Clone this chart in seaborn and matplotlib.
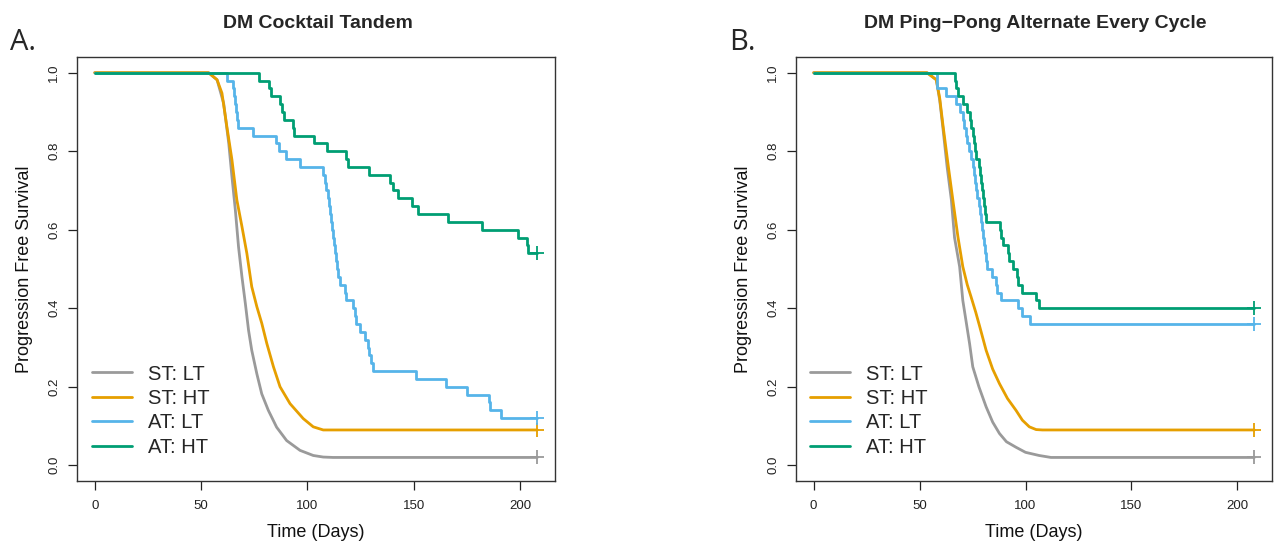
import numpy as np
import pandas as pd
import matplotlib
matplotlib.use("Agg")
import matplotlib.pyplot as plt
import seaborn as sns

# ---------------- Panel A: DM Cocktail Tandem ----------------
a_st_lt_t = [0, 53.5, 57.5, 60.6, 63.0, 64.5, 66.1, 67.6, 69.2, 70.8, 72.3, 73.8, 76.2,
             78.5, 81.6, 85.5, 90.2, 96.5, 102.7, 107.4, 112, 208]
a_st_lt_s = [1.0, 1.0, 0.982, 0.922, 0.820, 0.735, 0.650, 0.556, 0.480, 0.412, 0.344, 0.293,
             0.233, 0.182, 0.140, 0.097, 0.063, 0.038, 0.025, 0.021, 0.02, 0.02]

a_st_ht_t = [0, 53.5, 57.5, 59.8, 62.1, 64.5, 66.8, 69.2, 71.5, 73.8, 76.2, 78.5, 80.9,
             84.0, 87.1, 91.8, 98.0, 102.7, 107.4, 208]
a_st_ht_s = [1.0, 1.0, 0.982, 0.948, 0.863, 0.778, 0.676, 0.608, 0.540, 0.455, 0.404, 0.362,
             0.310, 0.251, 0.200, 0.157, 0.119, 0.098, 0.09, 0.09]

a_at_lt_t = [0, 62, 65, 65.5, 66, 66.5, 67, 67.5, 74.5, 85, 86.5, 90, 96.5,
             107.5, 108, 108.5, 109.5, 110, 110.5, 111, 111.5, 112, 112.5,
             113, 113.5, 114, 114.5, 115.5, 117.5, 118,
             121.5, 122.5, 123, 124.5, 127, 128.5, 129, 130, 131,
             151, 165, 175, 185.5, 186, 191, 208]
a_at_lt_s = [1.0, .98, .96, .94, .92, .90, .88, .86, .84, .82, .80, .78, .76,
             .74, .72, .70, .68, .66, .64, .62, .60, .58, .56,
             .54, .52, .50, .48, .46, .44, .42,
             .40, .38, .36, .34, .32, .30, .28, .26, .24,
             .22, .20, .18, .16, .14, .12, .12]

a_at_ht_t = [0, 77, 82, 83, 87, 88, 89, 93, 93.5, 103, 109, 118, 119, 129, 139, 140,
             142.5, 149, 152, 166, 182, 199, 203, 203.5, 208]
a_at_ht_s = [1.0, .98, .96, .94, .92, .90, .88, .86, .84, .82, .80, .78, .76, .74, .72, .70,
             .68, .66, .64, .62, .60, .58, .56, .54, .54]

# ---------------- Panel B: DM Ping-Pong Alternate Every Cycle ----------------
b_st_lt_t = [0, 53.5, 57.9, 59.5, 61, 63, 65, 66.5, 68.9, 70.4, 73.6, 75.1, 78, 81.4,
             84.5, 87.7, 91, 95.5, 100, 106.4, 112, 208]
b_st_lt_s = [1.0, 1.0, 0.982, 0.93, 0.86, 0.76, 0.676, 0.58, 0.506, 0.42, 0.31, 0.251,
             0.20, 0.149, 0.11, 0.081, 0.06, 0.046, 0.033, 0.025, 0.02, 0.02]

b_st_ht_t = [0, 53.5, 57.9, 59.5, 61, 63.4, 65.7, 68.1, 70.4, 72.5, 74.3, 76.5, 78.3,
             81.4, 84.5, 87.7, 91.5, 95.5, 98.5, 101.8, 105, 108, 208]
b_st_ht_s = [1.0, 1.0, 0.982, 0.935, 0.868, 0.768, 0.676, 0.582, 0.506, 0.46, 0.429,
             0.39, 0.355, 0.293, 0.245, 0.208, 0.17, 0.14, 0.115, 0.098, 0.091, 0.09, 0.09]

b_at_lt_t = [0, 58, 62.5, 67, 69, 70.5, 71, 72, 72.5, 73.5,
             74.5, 75, 75.5, 76, 76.5, 77, 78, 78.5, 79, 79.5,
             80, 80.5, 81, 81.5, 82, 84, 86, 86.5, 88.5, 96.5,
             98.5, 102, 208]
b_at_lt_s = [1.0, .96, .94, .92, .90, .88, .86, .84, .82, .80,
             .78, .76, .74, .72, .70, .68, .66, .64, .62, .60,
             .58, .56, .54, .52, .50, .48, .46, .44, .42, .40,
             .38, .36, .36]

b_at_ht_t = [0, 66.5, 67, 68, 70.5, 72.5, 74, 74.5, 75, 75.5,
             76, 76.5, 78, 78.5, 79, 79.5, 80, 80.5, 81, 81.5,
             88, 88.5, 89.5, 91.5, 92, 94, 96, 96.5, 98.5, 105,
             106.5, 208]
b_at_ht_s = [1.0, .98, .96, .94, .92, .90, .88, .86, .84, .82,
             .80, .78, .76, .74, .72, .70, .68, .66, .64, .62,
             .60, .58, .56, .54, .52, .50, .48, .46, .44, .42,
             .40, .40]

group_labels = ["ST: LT", "ST: HT", "AT: LT", "AT: HT"]
group_colors = ["#9a9a9a", "#E69F00", "#56B4E9", "#009E73"]
x_ticks = [0, 50, 100, 150, 200]
y_ticks = [0.0, 0.2, 0.4, 0.6, 0.8, 1.0]

sns.set_theme(style="ticks")
plt.rcParams["font.family"] = ["Liberation Sans", "DejaVu Sans"]

W, H = 1274, 549
fig = plt.figure(figsize=(W / 100, H / 100), dpi=100)
axA = fig.add_axes([77 / W, 68 / H, 478 / W, 424 / H])
axB = fig.add_axes([796 / W, 68 / H, 476 / W, 424 / H])


def draw_panel(ax, curves, leg_x):
    for (t, s, stepped), lab, col in zip(curves, group_labels, group_colors):
        df = pd.DataFrame({"Time (Days)": t, "Progression Free Survival": s})
        sns.lineplot(data=df, x="Time (Days)", y="Progression Free Survival", ax=ax,
                     color=col, linewidth=2.0, estimator=None, sort=False,
                     drawstyle="steps-post" if stepped else "default", label=lab)
        end = df.iloc[[-1]]
        sns.scatterplot(data=end, x="Time (Days)", y="Progression Free Survival", ax=ax,
                        marker="+", s=90, color=col, linewidth=1.3, legend=False,
                        zorder=5)
    ax.set_xlim(-8.32, 216.32)
    ax.set_ylim(-0.04, 1.04)
    ax.set_xticks(x_ticks)
    ax.set_xticklabels([str(v) for v in x_ticks])
    ax.set_yticks(y_ticks)
    ax.set_yticklabels([f"{v:.1f}" for v in y_ticks], rotation=90, va="center")
    ax.tick_params(axis="both", direction="out", length=6.5, width=0.9,
                   colors="#222222", labelsize=9.5)
    ax.tick_params(axis="x", pad=7)
    ax.tick_params(axis="y", pad=5.5)
    for sp in ax.spines.values():
        sp.set_visible(True)
        sp.set_color("#333333")
        sp.set_linewidth(1.0)
    ax.set_xlabel("Time (Days)", fontsize=13, labelpad=8.5, color="#111111")
    ax.set_ylabel("Progression Free Survival", fontsize=13, labelpad=11, color="#111111")
    handles, labels = ax.get_legend_handles_labels()
    ax.legend(handles, labels, loc="lower left", bbox_to_anchor=(leg_x, 0.057),
              frameon=False, fontsize=14.5, handlelength=2.0, handletextpad=0.8,
              labelspacing=0.27, borderpad=0, borderaxespad=0)


draw_panel(axA, [(a_st_lt_t, a_st_lt_s, False), (a_st_ht_t, a_st_ht_s, False),
                 (a_at_lt_t, a_at_lt_s, True), (a_at_ht_t, a_at_ht_s, True)], 0.0314)
draw_panel(axB, [(b_st_lt_t, b_st_lt_s, False), (b_st_ht_t, b_st_ht_s, False),
                 (b_at_lt_t, b_at_lt_s, True), (b_at_ht_t, b_at_ht_s, True)], 0.0294)

fig.text(318 / W, 1 - 23 / H, "DM Cocktail Tandem", ha="center", va="center",
         fontsize=14, fontweight="bold")
fig.text(1035 / W, 1 - 23 / H, "DM Ping\u2212Pong Alternate Every Cycle", ha="center",
         va="center", fontsize=14, fontweight="bold")
fig.text(10 / W, 1 - 49.5 / H, "A.", ha="left", va="baseline", fontsize=21,
         family=["Open Sans", "DejaVu Sans"])
fig.text(729 / W, 1 - 49.5 / H, "B.", ha="left", va="baseline", fontsize=21,
         family=["Open Sans", "DejaVu Sans"])

fig.savefig("out.png", dpi=100, facecolor="white")
